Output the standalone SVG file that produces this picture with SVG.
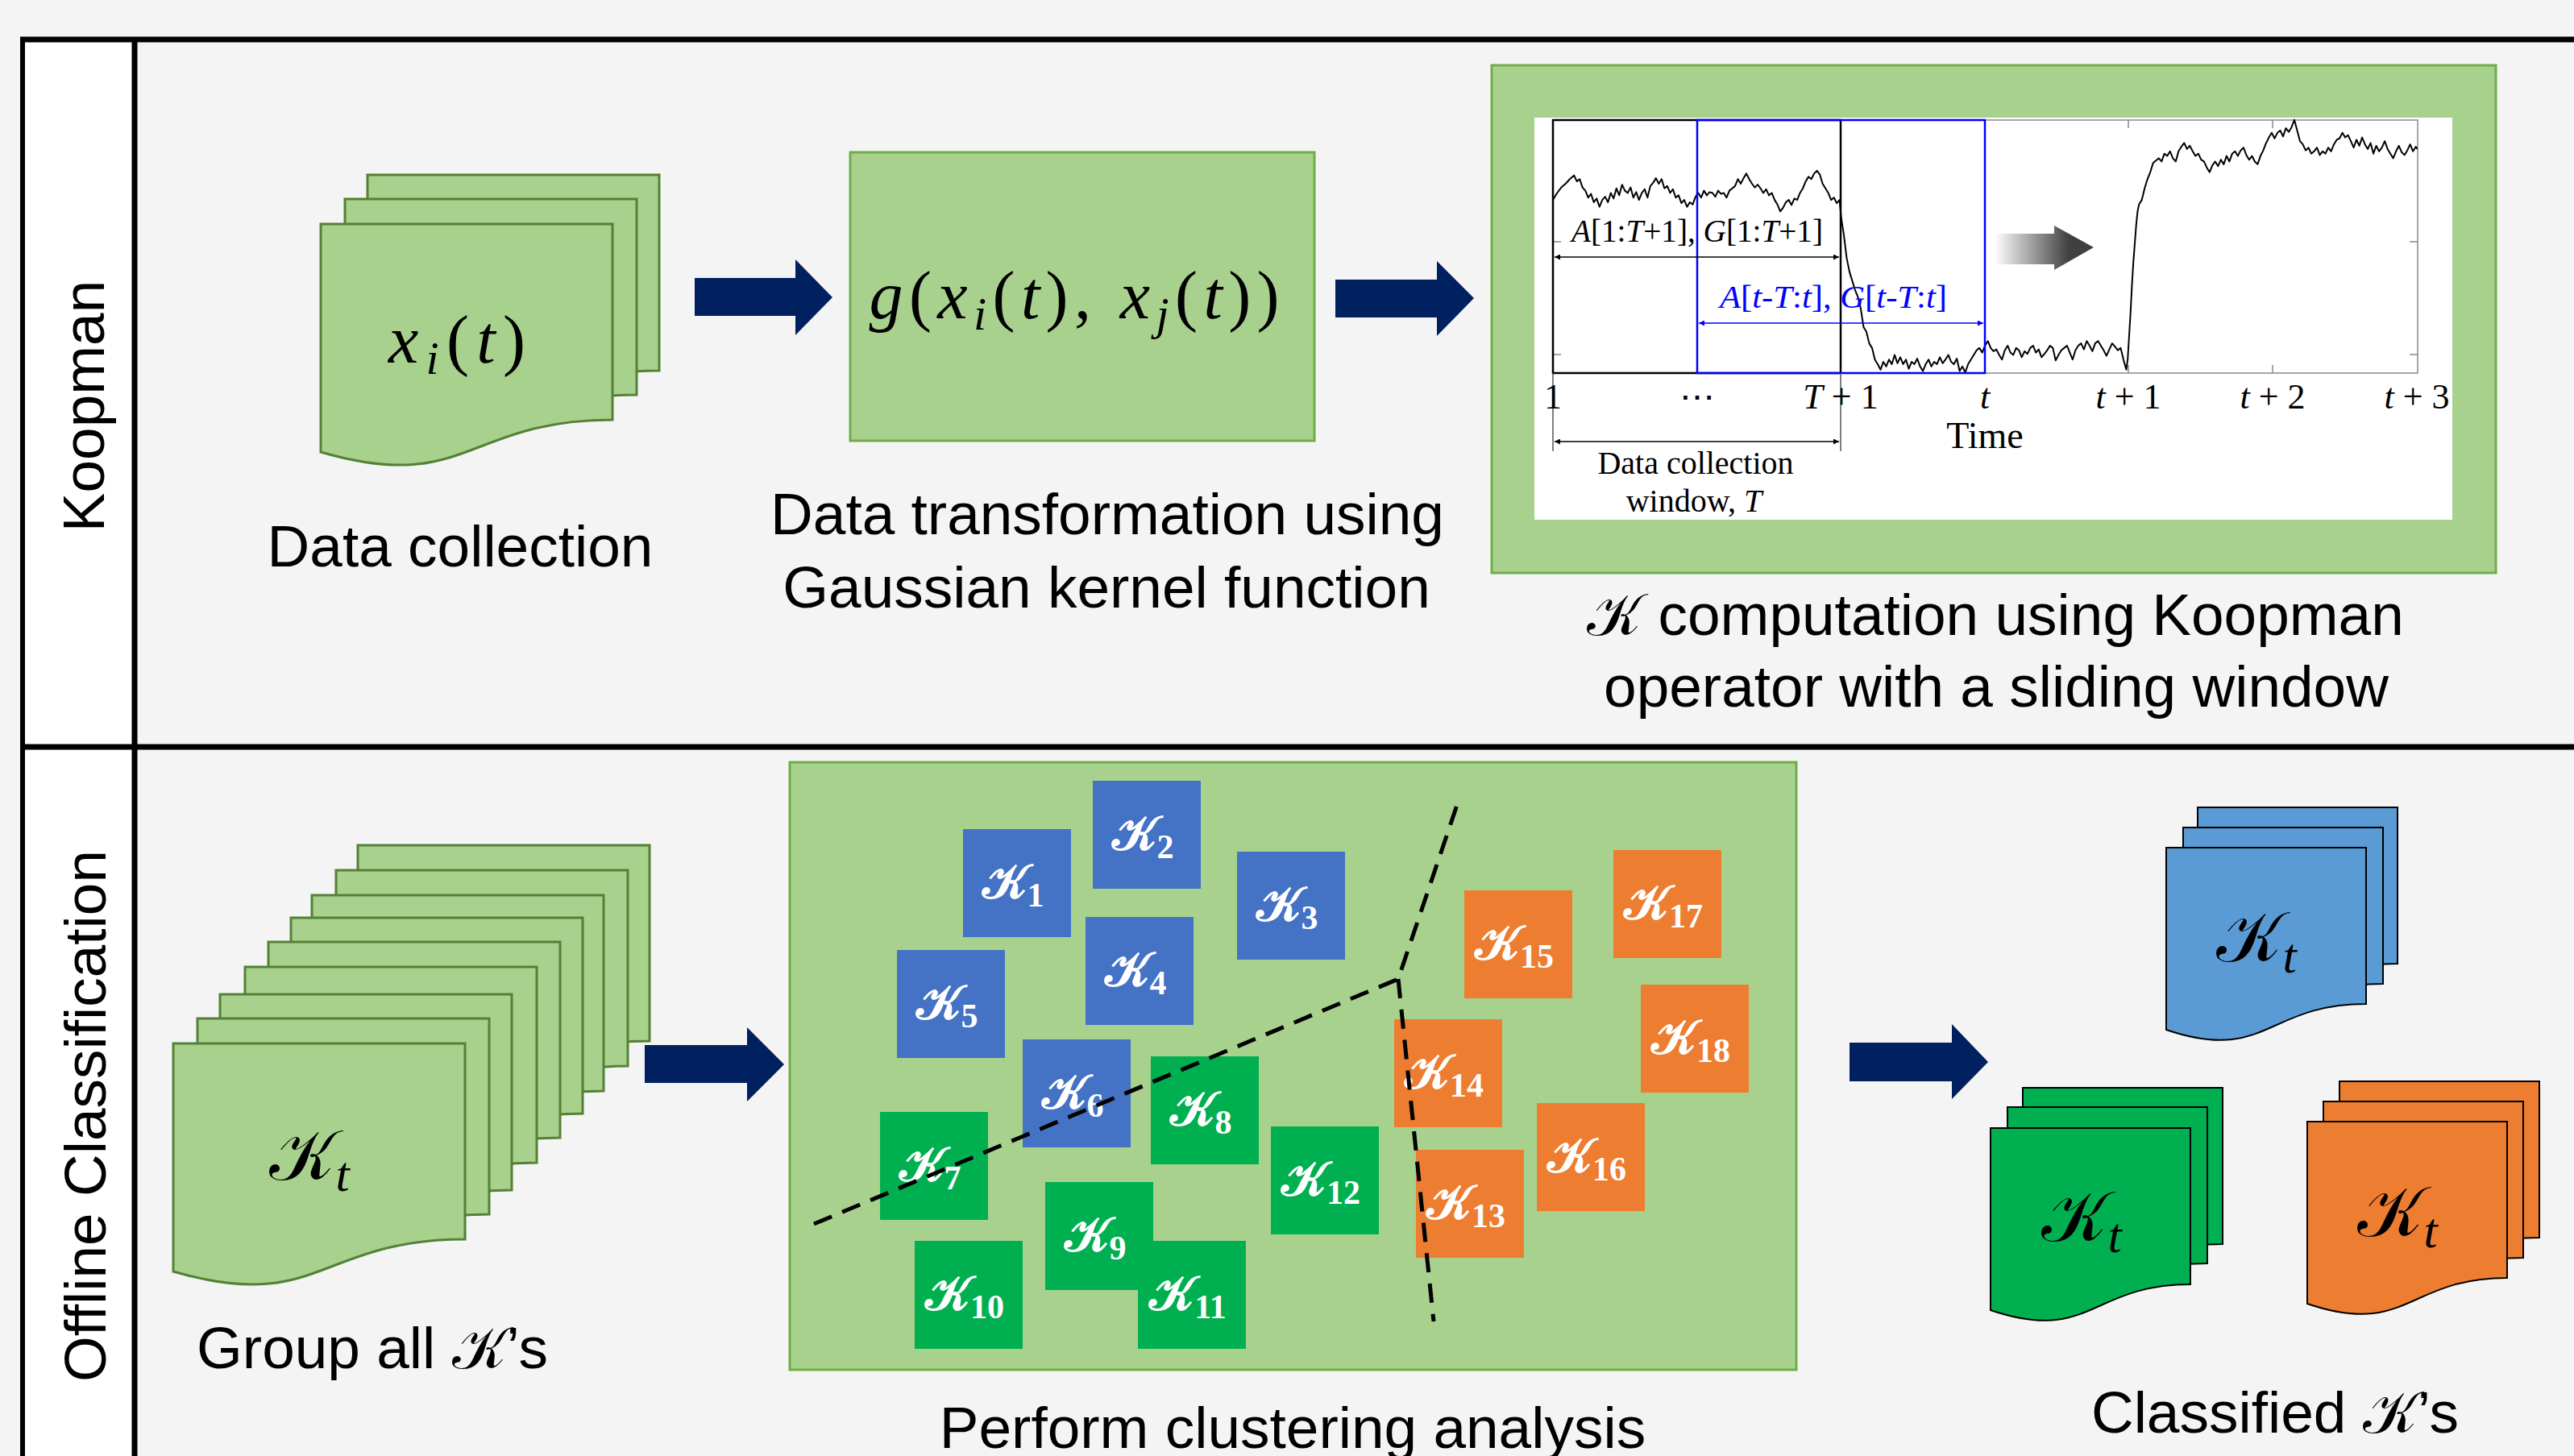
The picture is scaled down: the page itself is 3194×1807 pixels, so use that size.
<svg xmlns="http://www.w3.org/2000/svg" xmlns:xlink="http://www.w3.org/1999/xlink" width="3194" height="1807" viewBox="0 0 3194 1807">
<style>
.frame{stroke:#000;stroke-width:7;fill:none}
.pg{fill:#A9D18E;stroke:#538135;stroke-width:3}
.box{fill:#A9D18E;stroke:#70AD47;stroke-width:3}
.arr{fill:#002060}
.cap{font-family:"Liberation Sans",Arial,sans-serif;font-size:73px;fill:#000;text-anchor:middle}
.math{font-family:"Liberation Serif","DejaVu Serif",serif;fill:#000}
.scr{font-family:"DejaVu Serif","DejaVu Sans","Noto Sans",serif;font-style:normal}
.sqb{fill:#4472C4}.sqg{fill:#00B050}.sqo{fill:#ED7D31}
.sql{font-family:"Liberation Serif","DejaVu Serif",serif;fill:#fff;font-size:60px;font-weight:bold;text-anchor:middle}
.cb{fill:#5B9BD5;stroke:#000;stroke-width:2}
.cg{fill:#00B050;stroke:#000;stroke-width:2}
.co{fill:#ED7D31;stroke:#000;stroke-width:2}
.pt{font-family:"Liberation Serif","DejaVu Serif",serif;fill:#000;text-anchor:middle}
.dash{fill:none;stroke:#000;stroke-width:5;stroke-dasharray:24 14}
</style>
<defs>
<path id="docL" d="M0,0 H362 V243 C181,243 181,335.6 0,283 Z"/>
<path id="docS" d="M0,0 H248 V194 C124,194 124,268 0,226 Z"/>
<linearGradient id="grad" x1="0" y1="0" x2="1" y2="0">
<stop offset="0" stop-color="#ffffff"/>
<stop offset="0.75" stop-color="#404040"/>
<stop offset="1" stop-color="#404040"/>
</linearGradient>
<marker id="ahk" viewBox="0 0 10 10" refX="10" refY="5" markerWidth="7" markerHeight="7" orient="auto-start-reverse" markerUnits="userSpaceOnUse">
<path d="M0,0 L10,5 L0,10 Z" fill="#000"/>
</marker>
<marker id="ahb" viewBox="0 0 10 10" refX="10" refY="5" markerWidth="7" markerHeight="7" orient="auto-start-reverse" markerUnits="userSpaceOnUse">
<path d="M0,0 L10,5 L0,10 Z" fill="#0000FF"/>
</marker>
</defs>

<rect x="0" y="0" width="3194" height="1807" fill="#F4F4F4"/>
<rect x="31" y="53" width="134" height="1754" fill="#FFFFFF"/>

<g id="frame">
<line class="frame" x1="25" y1="49" x2="3194" y2="49"/>
<line class="frame" x1="25" y1="927" x2="3194" y2="927"/>
<line class="frame" x1="28" y1="46" x2="28" y2="1807" style="stroke-width:6"/>
<line class="frame" x1="167" y1="46" x2="167" y2="1807"/>
</g>

<g id="lane-labels">
<text class="cap" transform="translate(129,504) rotate(-90)">Koopman</text>
<text class="cap" transform="translate(131,1385) rotate(-90)">Offline Classification</text>
</g>

<g id="data-collection">
<use xlink:href="#docL" class="pg" x="456" y="217"/>
<use xlink:href="#docL" class="pg" x="428" y="247"/>
<use xlink:href="#docL" class="pg" x="398" y="278"/>
<text class="math" x="567" y="450" font-size="84" text-anchor="middle" textLength="170" lengthAdjust="spacing"><tspan font-style="italic">x</tspan><tspan font-style="italic" font-size="58" dy="14">i</tspan><tspan dy="-14">(</tspan><tspan font-style="italic">t</tspan>)</text>
<text class="cap" x="571" y="703">Data collection</text>
</g>

<g id="transformation">
<rect class="box" x="1055" y="189" width="576" height="358"/>
<text class="math" x="1333" y="395" font-size="84" text-anchor="middle" textLength="509" lengthAdjust="spacing"><tspan font-style="italic">g</tspan>(<tspan font-style="italic">x</tspan><tspan font-style="italic" font-size="58" dy="14">i</tspan><tspan dy="-14">(</tspan><tspan font-style="italic">t</tspan>), <tspan font-style="italic">x</tspan><tspan font-style="italic" font-size="58" dy="14">j</tspan><tspan dy="-14">(</tspan><tspan font-style="italic">t</tspan>))</text>
<text class="cap" x="1374" y="663">Data transformation using</text>
<text class="cap" x="1373" y="754">Gaussian kernel function</text>
</g>

<g id="koopman-computation">
<rect class="box" x="1851" y="81" width="1246" height="630"/>
<rect x="1904" y="146" width="1139" height="499" fill="#FFFFFF"/>
<rect x="1927" y="149" width="1073" height="314" fill="none" stroke="#888" stroke-width="1.5"/>
<g stroke="#888" stroke-width="1.5">
<line x1="3000" y1="300" x2="2990" y2="300"/><line x1="3000" y1="440" x2="2990" y2="440"/>
<line x1="1927" y1="300" x2="1937" y2="300"/><line x1="1927" y1="440" x2="1937" y2="440"/>
<line x1="2641" y1="149" x2="2641" y2="159"/><line x1="2820" y1="149" x2="2820" y2="159"/>
<line x1="2641" y1="463" x2="2641" y2="453"/><line x1="2820" y1="463" x2="2820" y2="453"/>
</g>
<polyline transform="translate(1820,50) scale(0.87627,0.57422)" fill="none" stroke="#000" stroke-width="2" vector-effect="non-scaling-stroke" stroke-linejoin="round" points="122,345 128,330 134,318 140,310 146,300 152,292 156,305 160,300 164,318 168,325 172,340 176,332 180,350 184,342 188,360 192,345 196,338 200,350 204,330 208,342 212,320 216,335 220,312 224,325 228,330 232,318 236,340 240,328 244,345 248,330 252,322 256,340 260,315 264,308 268,298 272,310 276,300 280,320 284,315 288,330 292,322 296,340 300,335 304,352 308,345 312,360 316,350 320,355 324,338 328,330 332,340 336,325 340,335 344,328 348,330 352,338 356,325 360,332 364,330 368,340 372,325 376,320 380,315 384,300 388,310 392,298 396,288 400,300 404,310 408,318 412,312 416,320 420,330 424,322 428,335 432,330 436,345 440,355 444,370 448,362 452,350 456,345 460,356 464,342 468,345 472,330 476,320 480,305 484,295 488,300 492,288 496,282 500,290 504,310 508,320 512,330 516,345 520,340 524,352 528,345 530,380 534,420 538,470 542,500 546,520 550,540 554,555 558,580 562,620 566,630 570,655 574,665 578,690 582,700 586,712 590,695 594,705 598,690 602,700 606,680 610,698 614,685 618,700 622,690 626,710 630,695 634,700 638,688 642,705 646,715 650,700 654,690 658,705 662,695 666,700 670,685 674,698 678,690 682,680 686,695 690,700 694,688 698,715 702,705 706,718 710,700 714,690 718,680 722,670 726,665 730,675 734,660 738,650 742,665 746,672 750,668 754,680 758,690 762,670 766,660 770,675 774,680 778,665 782,670 786,685 790,672 794,678 798,665 802,660 806,675 810,668 814,685 818,678 822,670 826,660 830,665 834,692 838,680 842,670 846,665 850,660 854,675 858,690 862,670 866,660 870,655 874,668 878,650 882,660 886,672 890,655 894,650 898,660 902,670 906,682 910,668 914,655 918,662 922,670 926,665 930,690 934,712 936,690 938,640 940,590 942,530 944,480 946,440 948,400 950,370 952,355 956,345 960,320 964,300 968,285 972,265 976,260 980,255 984,262 988,245 992,250 996,240 1000,255 1004,262 1008,240 1012,230 1016,222 1020,235 1024,228 1028,240 1032,250 1036,245 1040,258 1044,262 1048,275 1052,285 1056,270 1060,262 1064,272 1068,258 1072,268 1076,250 1080,262 1084,245 1088,240 1092,250 1096,238 1100,232 1104,248 1108,258 1112,250 1116,262 1120,268 1124,250 1128,238 1132,222 1136,210 1140,200 1144,212 1148,200 1152,195 1156,208 1160,190 1164,198 1168,188 1172,172 1176,195 1180,218 1184,225 1188,238 1192,232 1196,245 1200,240 1204,232 1208,248 1212,240 1216,245 1220,232 1224,240 1228,225 1232,215 1236,212 1240,200 1244,210 1248,205 1252,218 1256,232 1260,215 1264,228 1268,210 1272,225 1276,235 1280,222 1284,245 1288,228 1292,240 1296,232 1300,218 1304,235 1308,245 1312,255 1316,240 1320,228 1324,242 1328,248 1332,238 1336,225 1340,240 1344,230 1346,235"/>
<rect x="1927" y="149" width="357" height="314" fill="none" stroke="#000" stroke-width="2.5"/>
<rect x="2106" y="149" width="357" height="314" fill="none" stroke="#0000FF" stroke-width="2.5"/>
<line x1="1927" y1="463" x2="1927" y2="560" stroke="#555" stroke-width="1.5"/>
<line x1="2284" y1="463" x2="2284" y2="560" stroke="#555" stroke-width="1.5"/>
<line x1="1929" y1="319" x2="2282" y2="319" stroke="#000" stroke-width="1.5" marker-start="url(#ahk)" marker-end="url(#ahk)"/>
<line x1="2108" y1="401" x2="2461" y2="401" stroke="#0000FF" stroke-width="1.5" marker-start="url(#ahb)" marker-end="url(#ahb)"/>
<line x1="1929" y1="548" x2="2282" y2="548" stroke="#000" stroke-width="1.5" marker-start="url(#ahk)" marker-end="url(#ahk)"/>
<polygon points="2475,290 2549,290 2549,280 2598,307 2549,335 2549,328 2475,328" fill="url(#grad)"/>
<text class="pt" x="2106" y="300" font-size="40" textLength="312" lengthAdjust="spacingAndGlyphs"><tspan font-style="italic">A</tspan>[1:<tspan font-style="italic">T</tspan>+1], <tspan font-style="italic">G</tspan>[1:<tspan font-style="italic">T</tspan>+1]</text>
<text class="pt" x="2275" y="382" font-size="40" style="fill:#0000FF" textLength="282" lengthAdjust="spacingAndGlyphs"><tspan font-style="italic">A</tspan>[<tspan font-style="italic">t</tspan>-<tspan font-style="italic">T</tspan>:<tspan font-style="italic">t</tspan>], <tspan font-style="italic">G</tspan>[<tspan font-style="italic">t</tspan>-<tspan font-style="italic">T</tspan>:<tspan font-style="italic">t</tspan>]</text>
<g font-size="44">
<text class="pt" x="1927" y="507">1</text>
<text class="pt" x="2106" y="507">⋯</text>
<text class="pt" x="2284" y="507"><tspan font-style="italic">T</tspan> + 1</text>
<text class="pt" x="2463" y="507" font-style="italic">t</text>
<text class="pt" x="2641" y="507"><tspan font-style="italic">t</tspan> + 1</text>
<text class="pt" x="2820" y="507"><tspan font-style="italic">t</tspan> + 2</text>
<text class="pt" x="2999" y="507"><tspan font-style="italic">t</tspan> + 3</text>
</g>
<text class="pt" x="2463" y="556" font-size="46">Time</text>
<text class="pt" x="2104" y="588" font-size="40">Data collection</text>
<text class="pt" x="2102" y="635" font-size="40">window, <tspan font-style="italic">T</tspan></text>
<text class="cap" x="2476" y="788"><tspan class="scr">𝒦</tspan> computation using Koopman</text>
<text class="cap" x="2477" y="877">operator with a sliding window</text>
</g>

<g id="connectors">
<polygon class="arr" points="862,345 987,345 987,322 1033,369 987,416 987,392 862,392"/>
<polygon class="arr" points="1657,347 1783,347 1783,324 1829,370 1783,417 1783,394 1657,394"/>
<polygon class="arr" points="800,1297 927,1297 927,1275 973,1321 927,1367 927,1344 800,1344"/>
<polygon class="arr" points="2295,1294 2422,1294 2422,1271 2467,1318 2422,1364 2422,1342 2295,1342"/>
</g>

<g id="group-all">
<use xlink:href="#docL" class="pg" x="444" y="1049"/>
<use xlink:href="#docL" class="pg" x="417" y="1080"/>
<use xlink:href="#docL" class="pg" x="387" y="1111"/>
<use xlink:href="#docL" class="pg" x="361" y="1139"/>
<use xlink:href="#docL" class="pg" x="333" y="1169"/>
<use xlink:href="#docL" class="pg" x="304" y="1200"/>
<use xlink:href="#docL" class="pg" x="273" y="1234"/>
<use xlink:href="#docL" class="pg" x="245" y="1264"/>
<use xlink:href="#docL" class="pg" x="215" y="1295"/>
<text class="math" x="384" y="1464" font-size="88" text-anchor="middle"><tspan class="scr">𝒦</tspan><tspan font-style="italic" font-size="62" dy="14">t</tspan></text>
<text class="cap" x="462" y="1698">Group all <tspan class="scr">𝒦</tspan>’s</text>
</g>

<g id="clustering">
<rect class="box" x="980" y="946" width="1249" height="754"/>
<g id="k1"><rect class="sqb" x="1195" y="1029" width="134" height="134"/><text class="sql" x="1257" y="1115"><tspan class="scr">𝒦</tspan><tspan font-size="42" dy="10">1</tspan></text></g>
<g id="k2"><rect class="sqb" x="1356" y="969" width="134" height="134"/><text class="sql" x="1418" y="1055"><tspan class="scr">𝒦</tspan><tspan font-size="42" dy="10">2</tspan></text></g>
<g id="k3"><rect class="sqb" x="1535" y="1057" width="134" height="134"/><text class="sql" x="1597" y="1143"><tspan class="scr">𝒦</tspan><tspan font-size="42" dy="10">3</tspan></text></g>
<g id="k4"><rect class="sqb" x="1347" y="1138" width="134" height="134"/><text class="sql" x="1409" y="1224"><tspan class="scr">𝒦</tspan><tspan font-size="42" dy="10">4</tspan></text></g>
<g id="k5"><rect class="sqb" x="1113" y="1179" width="134" height="134"/><text class="sql" x="1175" y="1265"><tspan class="scr">𝒦</tspan><tspan font-size="42" dy="10">5</tspan></text></g>
<g id="k6"><rect class="sqb" x="1269" y="1290" width="134" height="134"/><text class="sql" x="1331" y="1376"><tspan class="scr">𝒦</tspan><tspan font-size="42" dy="10">6</tspan></text></g>
<g id="k7"><rect class="sqg" x="1092" y="1380" width="134" height="134"/><text class="sql" x="1154" y="1466"><tspan class="scr">𝒦</tspan><tspan font-size="42" dy="10">7</tspan></text></g>
<g id="k8"><rect class="sqg" x="1428" y="1311" width="134" height="134"/><text class="sql" x="1490" y="1397"><tspan class="scr">𝒦</tspan><tspan font-size="42" dy="10">8</tspan></text></g>
<g id="k9"><rect class="sqg" x="1297" y="1467" width="134" height="134"/><text class="sql" x="1359" y="1553"><tspan class="scr">𝒦</tspan><tspan font-size="42" dy="10">9</tspan></text></g>
<g id="k10"><rect class="sqg" x="1135" y="1540" width="134" height="134"/><text class="sql" x="1197" y="1626"><tspan class="scr">𝒦</tspan><tspan font-size="42" dy="10">10</tspan></text></g>
<g id="k11"><rect class="sqg" x="1412" y="1540" width="134" height="134"/><text class="sql" x="1474" y="1626"><tspan class="scr">𝒦</tspan><tspan font-size="42" dy="10">11</tspan></text></g>
<g id="k12"><rect class="sqg" x="1577" y="1398" width="134" height="134"/><text class="sql" x="1639" y="1484"><tspan class="scr">𝒦</tspan><tspan font-size="42" dy="10">12</tspan></text></g>
<g id="k13"><rect class="sqo" x="1757" y="1427" width="134" height="134"/><text class="sql" x="1819" y="1513"><tspan class="scr">𝒦</tspan><tspan font-size="42" dy="10">13</tspan></text></g>
<g id="k14"><rect class="sqo" x="1730" y="1265" width="134" height="134"/><text class="sql" x="1792" y="1351"><tspan class="scr">𝒦</tspan><tspan font-size="42" dy="10">14</tspan></text></g>
<g id="k15"><rect class="sqo" x="1817" y="1105" width="134" height="134"/><text class="sql" x="1879" y="1191"><tspan class="scr">𝒦</tspan><tspan font-size="42" dy="10">15</tspan></text></g>
<g id="k16"><rect class="sqo" x="1907" y="1369" width="134" height="134"/><text class="sql" x="1969" y="1455"><tspan class="scr">𝒦</tspan><tspan font-size="42" dy="10">16</tspan></text></g>
<g id="k17"><rect class="sqo" x="2002" y="1055" width="134" height="134"/><text class="sql" x="2064" y="1141"><tspan class="scr">𝒦</tspan><tspan font-size="42" dy="10">17</tspan></text></g>
<g id="k18"><rect class="sqo" x="2036" y="1222" width="134" height="134"/><text class="sql" x="2098" y="1308"><tspan class="scr">𝒦</tspan><tspan font-size="42" dy="10">18</tspan></text></g>
<polyline class="dash" points="1010,1519 1735,1215 1808,999"/>
<line class="dash" x1="1735" y1="1215" x2="1779" y2="1640"/>
<text class="cap" x="1604" y="1797">Perform clustering analysis</text>
</g>

<g id="classified">
<use xlink:href="#docS" class="cb" x="2727" y="1002"/>
<use xlink:href="#docS" class="cb" x="2709" y="1027"/>
<use xlink:href="#docS" class="cb" x="2688" y="1052"/>
<text class="math" x="2800" y="1193" font-size="88" text-anchor="middle"><tspan class="scr">𝒦</tspan><tspan font-style="italic" font-size="62" dy="14">t</tspan></text>
<use xlink:href="#docS" class="cg" x="2510" y="1350"/>
<use xlink:href="#docS" class="cg" x="2491" y="1374"/>
<use xlink:href="#docS" class="cg" x="2470" y="1400"/>
<text class="math" x="2583" y="1540" font-size="88" text-anchor="middle"><tspan class="scr">𝒦</tspan><tspan font-style="italic" font-size="62" dy="14">t</tspan></text>
<use xlink:href="#docS" class="co" x="2903" y="1342"/>
<use xlink:href="#docS" class="co" x="2883" y="1367"/>
<use xlink:href="#docS" class="co" x="2863" y="1392"/>
<text class="math" x="2975" y="1534" font-size="88" text-anchor="middle"><tspan class="scr">𝒦</tspan><tspan font-style="italic" font-size="62" dy="14">t</tspan></text>
<text class="cap" x="2823" y="1778">Classified <tspan class="scr">𝒦</tspan>’s</text>
</g>
</svg>
